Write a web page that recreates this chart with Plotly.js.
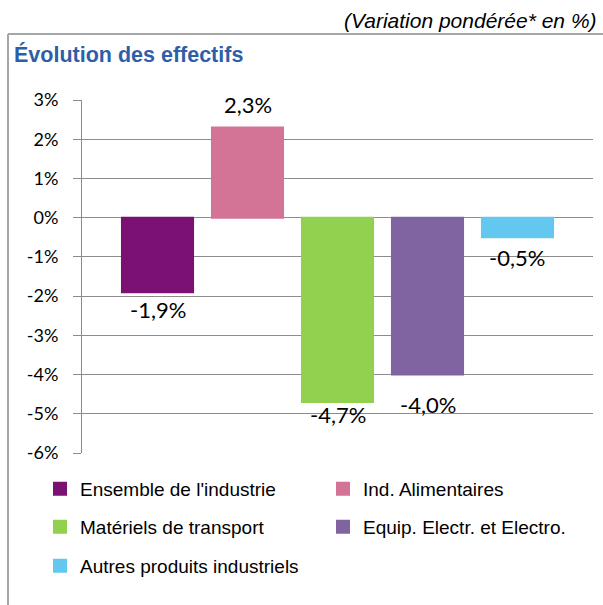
<!DOCTYPE html>
<html>
<head>
<meta charset="utf-8">
<script src="https://cdn.plot.ly/plotly-3.0.1.min.js"></script>
<style>html,body{margin:0;padding:0;background:#fff;}#chart{width:603px;height:605px;}</style>
</head>
<body>
<div id="chart"></div>
<script>
// ---- data ----
var seriesNames = ["Ensemble de l'industrie", "Ind. Alimentaires", "Matériels de transport", "Equip. Electr. et Electro.", "Autres produits industriels"];
var seriesValues = [-1.9, 2.3, -4.7, -4.0, -0.5];
var seriesColors = ["#7B1172", "#D37497", "#92D050", "#8064A2", "#63C8F0"];
var tickValues = [3, 2, 1, 0, -1, -2, -3, -4, -5, -6];
var chartTitle = "Évolution des effectifs";
var noteText = "(Variation pondérée* en %)";

// ---- styling / placement (not data) ----
var labelShift = [-2, 7, 3, -14, -5];
var legendIds = ["legend", "legend2", "legend3", "legend4", "legend5"];
var legendPos = [[40, 489], [323, 489], [40, 527], [323, 527], [40, 566]];

function fmt(v) { return v.toFixed(1).replace('.', ',') + '%'; }
function fmtTick(v) { return String(v) + '%'; }

var traces = seriesNames.map(function (n, i) {
  return {
    type: 'bar', name: n, x: [n], y: [seriesValues[i]],
    marker: { color: seriesColors[i], line: { color: seriesColors[i], width: 2 } }, width: 0.79,
    legend: legendIds[i], hoverinfo: 'none'
  };
});

var annotations = seriesNames.map(function (n, i) {
  var pos = seriesValues[i] >= 0;
  return {
    x: n, y: seriesValues[i], xref: 'x', yref: 'y', text: fmt(seriesValues[i]),
    showarrow: false, yanchor: pos ? 'bottom' : 'top', yshift: labelShift[i],
    font: { family: 'Lato, sans-serif', size: 22, color: '#000' }
  };
});
annotations.push({
  xref: 'paper', yref: 'paper', x: (599 - 82) / 511, y: (453 - 21) / 353,
  xanchor: 'right', yanchor: 'middle', showarrow: false, text: '<i>' + noteText + '</i>',
  font: { family: 'Liberation Sans, Arial, sans-serif', size: 21, color: '#000' }
});

function lg(p) {
  return {
    orientation: 'h', xref: 'container', yref: 'container', xanchor: 'left', yanchor: 'middle',
    x: p[0] / 603, y: 1 - p[1] / 605, bgcolor: 'rgba(0,0,0,0)', borderwidth: 0,
    font: { family: 'Liberation Sans, Arial, sans-serif', size: 19, color: '#000' }
  };
}

var layout = {
  width: 603, height: 605,
  margin: { l: 82, r: 10, t: 100, b: 152 },
  paper_bgcolor: '#fff', plot_bgcolor: '#fff',
  barmode: 'overlay',
  title: {
    text: '<b>' + chartTitle + '</b>', xref: 'container', yref: 'container',
    x: 14 / 603, xanchor: 'left', y: 1 - 54 / 605, yanchor: 'middle',
    font: { family: 'Liberation Sans, Arial, sans-serif', size: 21.5, color: '#2E5EA8' }
  },
  xaxis: {
    type: 'category', range: [-0.839, 4.839], showticklabels: false, showgrid: false,
    zeroline: false, showline: false, ticks: '', fixedrange: true
  },
  yaxis: {
    range: [-6, 3], tickvals: tickValues, ticktext: tickValues.map(fmtTick),
    showgrid: true, gridcolor: '#8C8C8C', gridwidth: 1, zeroline: false,
    showline: true, linecolor: '#8C8C8C', linewidth: 1,
    ticks: 'outside', ticklen: 8, tickcolor: '#8C8C8C', ticklabelstandoff: 11,
    tickfont: { family: 'Lato, sans-serif', size: 18, color: '#000' }, fixedrange: true
  },
  showlegend: true,
  annotations: annotations,
  shapes: [
    { type: 'line', xref: 'paper', yref: 'paper', x0: (8 - 82) / 511, x1: (605 - 82) / 511,
      y0: (453 - 34) / 353, y1: (453 - 34) / 353, line: { color: '#A6A6A6', width: 2 } },
    { type: 'line', xref: 'paper', yref: 'paper', x0: (8 - 82) / 511, x1: (8 - 82) / 511,
      y0: (453 - 34) / 353, y1: (453 - 610) / 353, line: { color: '#A6A6A6', width: 2 } }
  ]
};
legendIds.forEach(function (id, i) { layout[id] = lg(legendPos[i]); });

Plotly.newPlot('chart', traces, layout, { displayModeBar: false, staticPlot: true });
</script>
</body>
</html>
